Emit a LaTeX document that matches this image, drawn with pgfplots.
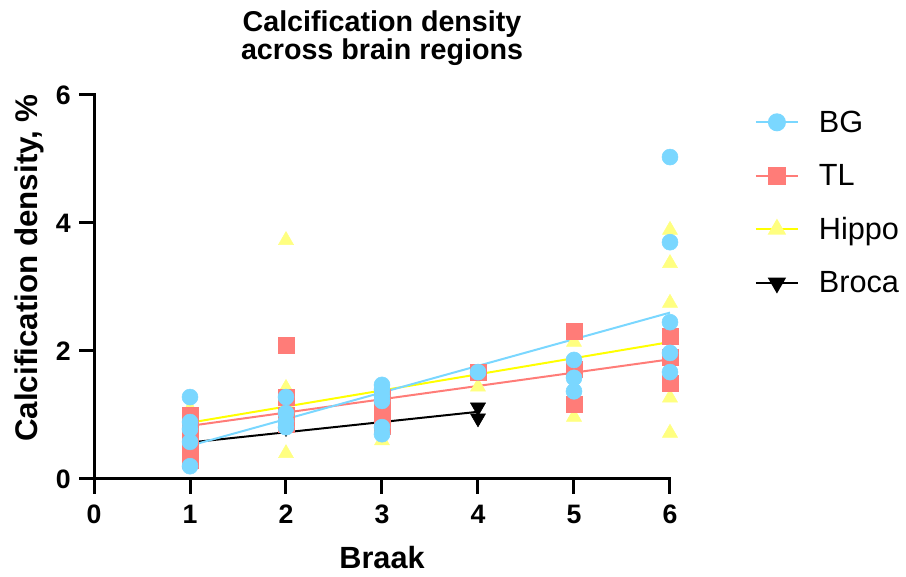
\documentclass[border=0pt]{standalone}
\usepackage{fontspec}
\setmainfont{Liberation Sans}
\usepackage{pgfplots}
\pgfplotsset{compat=1.18}
\definecolor{BGc}{HTML}{7AD7FF}
\definecolor{TLc}{HTML}{FF7C78}
\definecolor{HIc}{HTML}{FFFF80}
\definecolor{HIl}{HTML}{FFFF00}

\begin{document}
\begin{tikzpicture}[x=0.75pt,y=0.75pt]
\useasboundingbox (-94,-98) rectangle (812,479);
\begin{axis}[
  at={(0,0)}, anchor=south west,
  width=432pt, height=288pt, scale only axis,
  xmin=0, xmax=6, ymin=0, ymax=6,
  clip=false,
  axis x line=bottom, axis y line=left,
  axis line style={-, line width=2.25pt, line cap=rect},
  xtick={0,1,2,3,4,5,6}, ytick={0,2,4,6},
  minor tick num=0,
  tick align=outside,
  major tick length=11pt,
  tick style={line width=2.25pt, black},
  /pgf/number format/assume math mode=true,
  ticklabel style={font=\fontsize{20}{22}\selectfont\bfseries},
  xticklabel style={yshift=-5pt},
  yticklabel style={xshift=-3pt},
  legend style={draw=none, fill=none, at={(axis description cs:1.147,0.967)}, anchor=north west,
    font=\fontsize{23}{26}\selectfont, row sep=18.5pt, inner sep=0pt,
    /tikz/every odd column/.append style={column sep=13pt}},
  legend cell align=left,
  legend image code/.code={\draw[mark repeat=2, mark phase=2] plot coordinates {(0pt,0pt) (15.75pt,0pt) (31.5pt,0pt)};},
]
% fitted lines
\addplot[forget plot, no marks, black, line width=1.5pt] coordinates {(1,0.57) (4,1.05)};
\addplot[forget plot, no marks, HIl, line width=1.5pt] coordinates {(1,0.88) (6,2.14)};
\addplot[forget plot, no marks, TLc, line width=1.5pt] coordinates {(1,0.83) (6,1.87)};
\addplot[forget plot, no marks, BGc, line width=1.5pt] coordinates {(1,0.52) (6,2.60)};
% Broca
\addplot[forget plot, only marks, color=black, mark=triangle*, mark size=6.5pt, mark options={rotate=180}] coordinates {
  (1,0.6) (2,0.8) (3,1.0) (3,0.85) (4,1.12) (4,0.95)
};
% Hippo
\addplot[forget plot, only marks, color=HIc, mark=triangle*, mark size=6.5pt] coordinates {
  (1,1.1) (1,0.8) (2,3.73) (2,1.42) (2,0.4) (3,1.35) (3,1.07) (3,0.6)
  (4,1.44) (5,2.14) (5,0.97) (6,3.89) (6,3.37) (6,2.75) (6,1.27) (6,0.72)
};
% TL
\addplot[forget plot, only marks, color=TLc, mark=square*, mark size=6pt] coordinates {
  (1,1.0) (1,0.85) (1,0.62) (1,0.4) (1,0.3) (2,2.09) (2,1.27) (2,1.0) (2,0.85)
  (3,1.27) (3,1.05) (3,0.92) (3,0.82) (4,1.67) (5,2.31) (5,1.72) (5,1.16)
  (6,2.23) (6,1.9) (6,1.5)
};
% BG
\addplot[forget plot, only marks, color=BGc, mark=*, mark size=6pt] coordinates {
  (1,1.28) (1,0.89) (1,0.78) (1,0.58) (1,0.2) (2,1.28) (2,1.03) (2,0.9) (2,0.81)
  (3,1.47) (3,1.40) (3,1.30) (3,1.22) (3,0.81) (3,0.70) (4,1.67)
  (5,1.86) (5,1.58) (5,1.37) (6,5.03) (6,3.70) (6,2.45) (6,1.97) (6,1.67)
};
\addlegendimage{BGc, line width=1.5pt, mark=*, mark size=6pt, mark options={fill=BGc, draw=BGc}}
\addlegendentry{BG}
\addlegendimage{TLc, line width=1.5pt, mark=square*, mark size=6pt, mark options={fill=TLc, draw=TLc}}
\addlegendentry{TL}
\addlegendimage{HIl, line width=1.5pt, mark=triangle*, mark size=6.5pt, mark options={fill=HIc, draw=HIc}}
\addlegendentry{Hippo}
\addlegendimage{black, line width=1.5pt, mark=triangle*, mark size=6.5pt, mark options={rotate=180, fill=black, draw=black}}
\addlegendentry{Broca}
\end{axis}
\node[align=center, font=\fontsize{21.5}{19}\selectfont\bfseries] at (288,441) {Calcification density\\across brain regions};
\node[anchor=base, font=\fontsize{23}{26}\selectfont\bfseries] at (288,-90) {Braak};
\node[anchor=base, rotate=90, font=\fontsize{23.5}{26}\selectfont\bfseries] at (-56,211) {Calcification density, \%};
\end{tikzpicture}
\end{document}
